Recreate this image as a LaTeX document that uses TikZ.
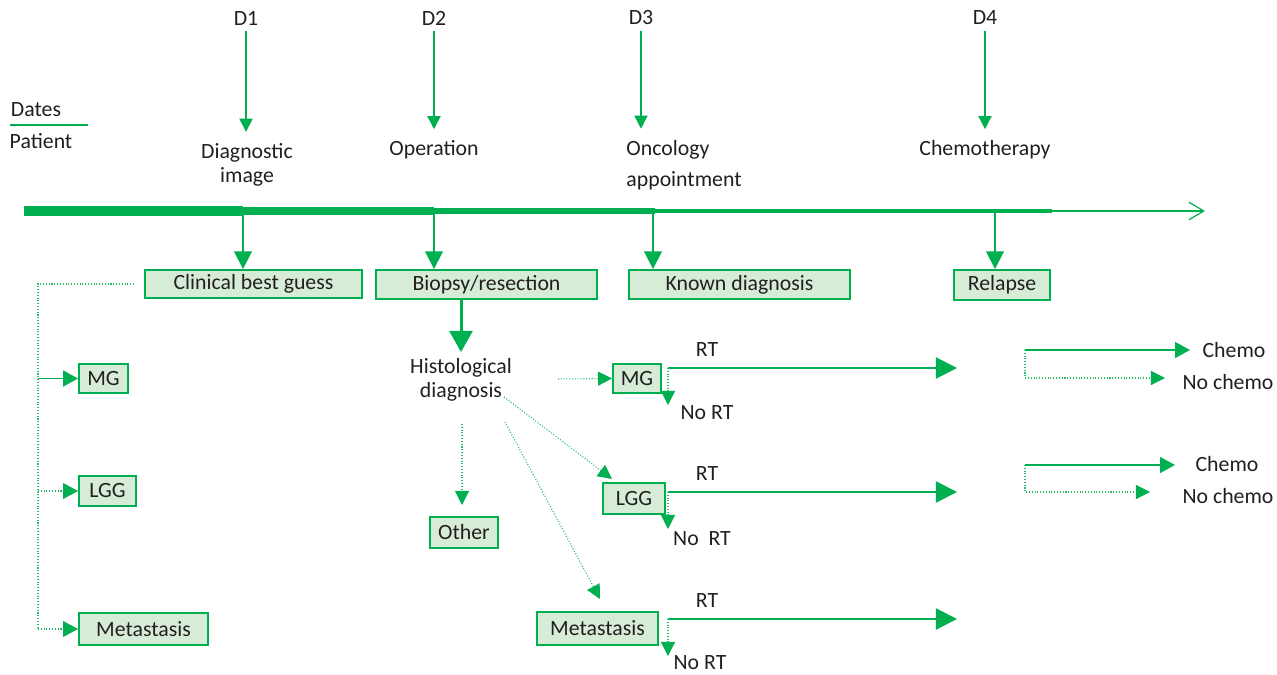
\documentclass[tikz,border=0pt]{standalone}
\usepackage{fontspec}
\setmainfont{Carlito}
\usetikzlibrary{arrows.meta}
\definecolor{grn}{RGB}{0,176,80}
\definecolor{lgrn}{RGB}{214,236,214}
\definecolor{ink}{RGB}{35,31,32}
\newcommand\figfont{\fontsize{12.4}{14}\selectfont}
\tikzset{
  lbl/.style={font=\figfont,text=ink},
  box/.style={lbl,draw=grn,line width=1.1pt,fill=lgrn,inner sep=0pt},
  bw/.style={minimum width=#1*0.02cm},
  bh/.style={minimum height=#1*0.02cm},
  darr/.style={grn,line width=0.85pt,shorten >=3pt,-{Triangle[length=7.5pt,width=7.5pt]}},
  tarr/.style={grn,line width=1.1pt,-{Triangle[length=10pt,width=10pt]}},
  barr/.style={grn,line width=1.7pt,-{Triangle[length=12pt,width=13pt]}},
  rtarr/.style={grn,line width=1.1pt,-{Triangle[length=12pt,width=12pt]}},
  sarr/.style={grn,line width=1.1pt,-{Triangle[length=8.5pt,width=9pt,color=grn]}},
  dline/.style={grn!85,line width=0.6pt,densely dotted},
  darrd/.style={dline,-{Triangle[length=8pt,width=8pt,color=grn]}},
}
\begin{document}
\begin{tikzpicture}[x=0.02cm,y=-0.02cm]
\useasboundingbox (0,0) rectangle (1277,675);
% legend
\node[lbl] (dates) at (36,110) {Dates};
\node[lbl] (patient) at (41,141) {Patient};
\draw[grn,line width=1.7pt] (10,125) -- (88,125);
% dates and events
\node[lbl] (d1) at (246,18) {D1};
\node[lbl] (d2) at (434,18) {D2};
\node[lbl] (d3) at (641,18) {D3};
\node[lbl] (d4) at (985,18) {D4};
\node[lbl,align=center] (diag) at (247,165) {Diagnostic\\image};
\node[lbl] (oper) at (434,150) {Operation};
\node[lbl,align=left,font=\fontsize{12.4}{17.6}\selectfont] (onco) at (684,165) {Oncology\\appointment};
\node[lbl] (chemo) at (985,150) {Chemotherapy};
\draw[darr] (d1) -- (d1 |- diag.north);
\draw[darr] (d2) -- (d2 |- oper.north);
\draw[darr] (d3) -- (d3 |- onco.north);
\draw[darr] (d4) -- (d4 |- chemo.north);
% time line
\coordinate (t0) at (24,211);
\coordinate (t1) at (243,211);
\coordinate (t2) at (434,211);
\coordinate (t3) at (655,211);
\coordinate (t4) at (1052,211);
\coordinate (tend) at (1205,211);
\draw[grn,line width=5.7pt] (t0) -- (t1);
\draw[grn,line width=4.5pt] (t1) -- (t2);
\draw[grn,line width=3pt] (t2) -- (t3);
\draw[grn,line width=2pt] (t3) -- (t4);
\draw[grn,line width=0.7pt,-{Straight Barb[length=8.5pt,width=10pt]}] (t4) -- (tend);
% patient path
\node[box,bw=217,bh=28] (clin) at (253.5,284) {Clinical best guess};
\node[box,bw=221,bh=29] (biopsy) at (486.5,284.5) {Biopsy/resection};
\node[box,bw=221,bh=29] (known) at (739.5,284.5) {Known diagnosis};
\node[box,bw=96,bh=30] (relapse) at (1002,285) {Relapse};
\coordinate (tk) at (653,211);
\coordinate (tr) at (995,211);
\draw[tarr] (t1) -- (t1 |- clin.north);
\draw[tarr] (t2) -- (t2 |- biopsy.north);
\draw[tarr] (tk) -- (tk |- known.north);
\draw[tarr] (tr) -- (tr |- relapse.north);
% clinical guess
\node[box,bw=49,bh=29] (mgL) at (103.5,378.5) {MG};
\node[box,bw=57,bh=30] (lggL) at (107.5,491) {LGG};
\node[box,bw=129,bh=32] (metL) at (143.5,629) {Metastasis};
\coordinate (lbus) at (38,284);
\draw[dline,shorten <=0.2cm] (clin.west) -- (lbus) -- (lbus |- metL.west);
\draw[sarr] (lbus |- mgL.west) -- (mgL.west);
\draw[sarr,dline] (lbus |- lggL.west) -- (lggL.west);
\draw[sarr,dline] (lbus |- metL.west) -- (metL.west);
% histology
\node[lbl,align=center] (histo) at (461,380) {Histological\\diagnosis};
\draw[barr] (biopsy.south -| histo.north) -- (histo.north);
\node[box,bw=48,bh=29] (mgM) at (637,378.5) {MG};
\node[box,bw=62,bh=31] (lggM) at (634,498.5) {LGG};
\node[box,bw=68,bh=31] (other) at (464,532.5) {Other};
\node[box,bw=121,bh=33] (metM) at (597.5,628.5) {Metastasis};
\coordinate (h1) at (558,379);
\coordinate (h2) at (504,397);
\coordinate (h2e) at (612,479);
\coordinate (h3) at (462,424);
\coordinate (h3e) at (462,505);
\coordinate (h4) at (505,422);
\coordinate (h4e) at (600,599);
\draw[darrd] (h1) -- (mgM.west);
\draw[darrd] (h2) -- (h2e);
\draw[darrd] (h3) -- (h3e);
\draw[darrd] (h4) -- (h4e);
% radiotherapy
\foreach \n/\y/\no/\ny/\nt in {mg/368/707/413/{No RT},lgg/492/702/539/{No\ \ RT},met/619/700/663/{No RT}}{
  \coordinate (\n S) at (668,\y);
  \coordinate (\n E) at (957,\y);
  \coordinate (\n D) at (668,\y+37);
  \node[lbl] (\n RT) at (707,\y-18) {RT};
  \node[lbl] (\n NoRT) at (\no,\ny) {\nt};
  \draw[rtarr] (\n S) -- (\n E);
  \draw[darrd] (\n S) -- (\n D);
}
% chemotherapy
\node[lbl] (chA) at (1234,350) {Chemo};
\node[lbl] (nchA) at (1228,382) {No chemo};
\node[lbl] (chB) at (1227,464) {Chemo};
\node[lbl] (nchB) at (1228,496) {No chemo};
\coordinate (cA) at (1025,350);
\coordinate (cAe) at (1190,350);
\coordinate (nAe) at (1165,378);
\coordinate (cB) at (1025,465);
\coordinate (cBe) at (1175,465);
\coordinate (nBe) at (1150,492);
\draw[sarr] (cA) -- (cAe);
\draw[darrd] (cA) -- (cA |- nAe) -- (nAe);
\draw[sarr] (cB) -- (cBe);
\draw[darrd] (cB) -- (cB |- nBe) -- (nBe);
\end{tikzpicture}
\end{document}
